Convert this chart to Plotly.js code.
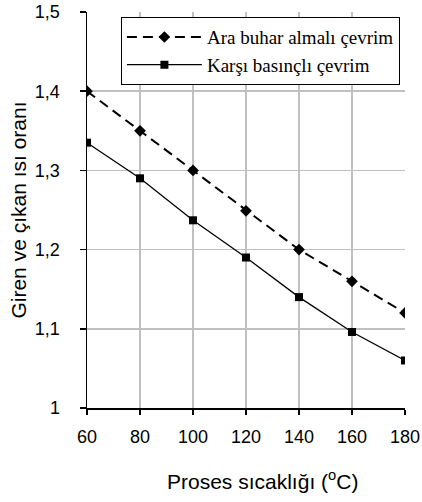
<!DOCTYPE html>
<html>
<head>
<meta charset="utf-8">
<script src="https://cdn.plot.ly/plotly-3.0.1.min.js"></script>
<style>html,body{margin:0;padding:0;background:#fff;}#chart{width:422px;height:502px;}</style>
</head>
<body>
<div id="chart"></div>
<script>
var temps = [60, 80, 100, 120, 140, 160, 180];
var araBuhar = [1.40, 1.35, 1.30, 1.249, 1.20, 1.16, 1.12];
var karsiBasinc = [1.335, 1.29, 1.237, 1.19, 1.14, 1.096, 1.06];
var seriesNames = ['Ara buhar almalı çevrim', 'Karşı basınçlı çevrim'];
var xTicks = [60, 80, 100, 120, 140, 160, 180];
var yTicks = [1, 1.1, 1.2, 1.3, 1.4, 1.5];
var yTickText = ['1', '1,1', '1,2', '1,3', '1,4', '1,5'];
var xTitle = 'Proses sıcaklığı (<sup>o</sup>C)';
var yTitle = 'Giren ve çıkan ısı oranı';

var traces = [
  {x: temps, y: araBuhar, name: seriesNames[0], mode: 'lines+markers',
   line: {color: '#000', width: 2, dash: '10px,6px'},
   marker: {symbol: 'diamond', size: 9, color: '#000'}},
  {x: temps, y: karsiBasinc, name: seriesNames[1], mode: 'lines+markers',
   line: {color: '#000', width: 1.3},
   marker: {symbol: 'square', size: 8, color: '#000'}}
];

var sans = 'Liberation Sans, Arial, sans-serif';
var layout = {
  width: 422, height: 502,
  margin: {l: 87, r: 17, t: 12, b: 94},
  paper_bgcolor: '#fff', plot_bgcolor: '#fff',
  showlegend: true,
  legend: {x: 0.984, xanchor: 'right', y: 0.987, yanchor: 'top',
    bordercolor: '#000', borderwidth: 1, bgcolor: '#fff',
    font: {family: 'Liberation Serif, Times New Roman, serif', size: 19, color: '#000'},
    tracegroupgap: 0, itemwidth: 75},
  xaxis: {range: [60, 180], tickvals: xTicks, ticktext: xTicks.map(String),
    showgrid: true, gridcolor: '#c0c0c0', gridwidth: 1.5,
    showline: true, linecolor: '#000', linewidth: 1.5,
    ticks: 'outside', ticklen: 5, tickcolor: '#000', tickwidth: 1.5,
    zeroline: false, ticklabelstandoff: 7,
    tickfont: {family: sans, size: 18, color: '#000'}},
  yaxis: {range: [1, 1.5], tickvals: yTicks, ticktext: yTickText,
    showgrid: true, gridcolor: '#c0c0c0', gridwidth: 1.5,
    showline: true, linecolor: '#000', linewidth: 1.5,
    ticks: 'outside', ticklen: 6, tickcolor: '#000', tickwidth: 1.5,
    zeroline: false, ticklabelstandoff: 16,
    tickfont: {family: sans, size: 18, color: '#000'},
    title: {text: yTitle, standoff: 2,
      font: {family: sans, size: 21, color: '#000'}}},
  annotations: [{text: xTitle, xref: 'paper', yref: 'paper', x: 0.553, y: -0.181,
    xanchor: 'center', yanchor: 'middle', showarrow: false,
    font: {family: sans, size: 21, color: '#000'}}]
};

Plotly.newPlot('chart', traces, layout, {displayModeBar: false, staticPlot: true});
</script>
</body>
</html>
